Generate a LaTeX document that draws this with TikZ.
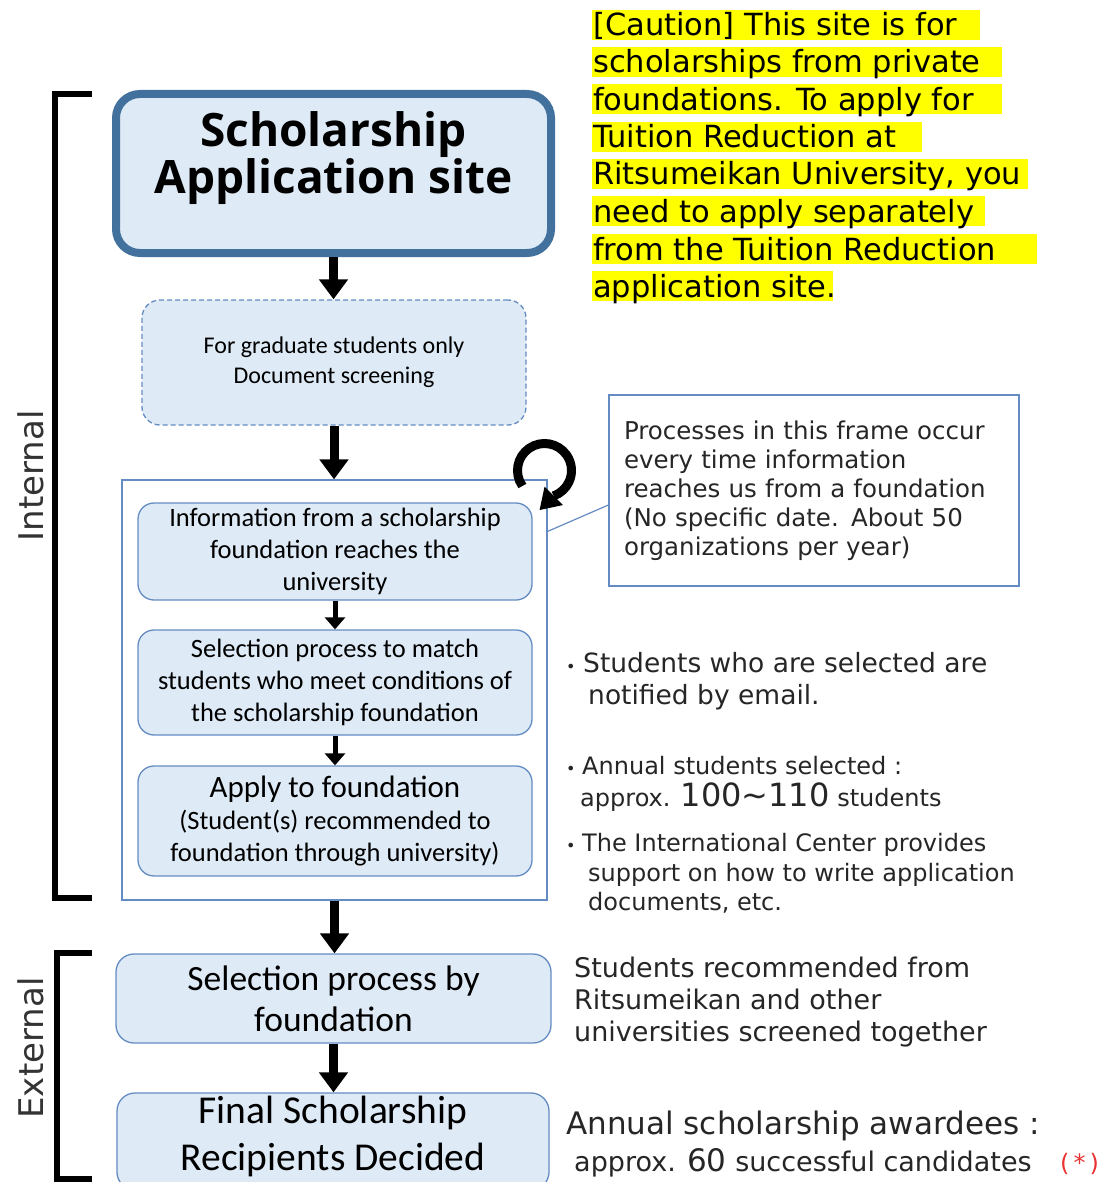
\documentclass[tikz,border=0pt]{standalone}
\usepackage{fontspec}
\setmainfont{Carlito}
\newfontfamily\gothfont{DejaVu Sans}
\newfontfamily\headfont{Open Sans}
\usetikzlibrary{arrows.meta,calc}
\newcommand\fsz[2]{\fontsize{#1}{#2}\selectfont}
\definecolor{boxfill}{RGB}{222,234,246}
\definecolor{deepblue}{RGB}{65,113,156}
\definecolor{lineblue}{RGB}{100,140,195}
\definecolor{hl}{RGB}{255,255,0}
\definecolor{redmark}{RGB}{235,50,50}
\newcommand\blt[1]{\makebox[#1][l]{\fsz{16}{16}•}}
\begin{document}
\begin{tikzpicture}[x=1pt,y=1pt,
  box/.style={draw=lineblue, line width=1.3pt, fill=boxfill, rounded corners=16pt, align=center, inner sep=0pt},
  bigarrow/.style={line width=9pt, -{Triangle[width=28pt,length=20pt]}},
  smallarrow/.style={line width=5pt, -{Triangle[width=20pt,length=12pt]}},
  bracketline/.style={line width=6pt},
  sidelabel/.style={font=\gothfont\fsz{34}{34}, text=black!80, rotate=90, anchor=base, inner sep=0pt},
  goth/.style={text=black!85, anchor=base west, inner sep=0pt},
  cline/.style={text=black, anchor=base west, inner sep=0pt, font=\gothfont\fsz{30.5}{30}},
]
\clip (0,0) rectangle (1103,-1182);
\fill[white] (0,0) rectangle (1103,-1182);

% caution highlight bands
\foreach \b/\xe in {36/980, 73/1002, 110.5/1002, 148/922, 185/1028, 222.5/985, 260/1037, 297/833}
  {\fill[hl] (592,{26-\b}) rectangle (\xe,{-4-\b});}
\node[cline] (c1) at (593,-36) {[Caution] This site is for};
\node[cline] (c2) at (593,-73) {scholarships from private};
\node[cline] (c3) at (593,-110.5) {foundations. To apply for};
\node[cline] (c4) at (593,-148) {Tuition Reduction at};
\node[cline] (c5) at (593,-185) {Ritsumeikan University, you};
\node[cline] (c6) at (593,-222.5) {need to apply separately};
\node[cline] (c7) at (593,-260) {from the Tuition Reduction};
\node[cline] (c8) at (593,-297) {application site.};

% brackets and labels
\draw[bracketline] (92,-94) -- (55,-94) -- (55,-898) -- (92,-898);
\draw[bracketline] (92,-953) -- (57,-953) -- (57,-1179) -- (92,-1179);
\node[sidelabel] (lint) at (43,-476) {Internal};
\node[sidelabel] (lext) at (43,-1048) {External};

% top box
\node[draw=deepblue, line width=8pt, fill=boxfill, rounded corners=24pt,
      minimum width=435pt, minimum height=159pt, inner sep=0pt] (site) at (333.5,-173.5) {};
\node[font=\headfont\bfseries\fsz{46}{45}, align=center, inner sep=0pt] (sitetxt) at (333.5,-158)
  {Scholarship\\Application site};

% dashed box
\node[box, dash pattern=on 5pt off 3pt, rounded corners=18pt, minimum width=384pt, minimum height=125pt,
      font=\fsz{24}{30}] (grad) at (334,-362.5) {For graduate students only\\Document screening};

% frame
\node[draw=lineblue, line width=1.2pt, fill=white, minimum width=425pt, minimum height=420pt, inner sep=0pt]
  (frame) at (334.5,-690) {};

\node[box, minimum width=394pt, minimum height=97pt, font=\fsz{26.5}{32}] (info) at (335,-551.5)
  {Information from a scholarship\\foundation reaches the\\university};
\node[box, minimum width=394pt, minimum height=105pt, font=\fsz{26.5}{32}] (match) at (335,-682.5)
  {Selection process to match\\students who meet conditions of\\the scholarship foundation};
\node[box, minimum width=394pt, minimum height=110pt, font=\fsz{26.5}{32}] (apply) at (335,-821)
  {{\fsz{31}{34}Apply to foundation}\\(Student(s) recommended to\\foundation through university)};

\node[box, rounded corners=18pt, minimum width=435pt, minimum height=89pt, font=\fsz{35.5}{41}] (fsel) at (333.5,-998.5)
  {Selection process by\\foundation};
\node[box, rounded corners=18pt, minimum width=432pt, minimum height=97pt] (final) at (333,-1141.5)
  {};
\node[align=center, inner sep=0pt, font=\fsz{39.5}{47}] (finaltxt) at (333,-1136.5)
  {Final Scholarship\\Recipients Decided};

% callout
\node[draw=lineblue, line width=1.2pt, fill=white, minimum width=410pt, minimum height=191pt,
      text width=380pt, inner xsep=15pt, inner ysep=0pt, align=left, text=black!85,
      font=\gothfont\fsz{24.5}{29}] (note) at (814,-490.5)
  {Processes in this frame occur\\every time information\\reaches us from a foundation\\(No specific date. About 50\\organizations per year)};
\draw[draw=lineblue, line width=1.2pt] ([yshift=-52pt]frame.north east) -- ([yshift=-14.5pt]note.west);

% loop arrow
\coordinate (loopc) at (544.5,-470.5);
\coordinate (loopend) at ($(loopc)+(-70:27pt)$);
\draw[line width=9pt] ([shift={(215:27pt)}]loopc) arc[start angle=215, end angle=-70, radius=27pt];
\fill ($(loopend)+(135:13pt)$) -- ($(loopend)+(315:13pt)$) -- ($(loopend)+(225:20pt)$) -- cycle;

% arrows
\draw[bigarrow] (site.south) -- (site.south |- grad.north);
\draw[bigarrow] (grad.south) -- (grad.south |- frame.north);
\draw[smallarrow] (info.south) -- (match.north);
\draw[smallarrow] (match.south) -- (apply.north);
\draw[bigarrow] (frame.south) -- (frame.south |- fsel.north);
\draw[bigarrow] (fsel.south) -- (fsel.south |- final.north);

% right notes
\node[goth, font=\gothfont\fsz{26.5}{32}] (s1) at (566,-672) {\blt{17pt}Students who are selected are};
\node[goth, font=\gothfont\fsz{26.5}{32}] (s2) at (588,-704) {notified by email.};
\node[goth, font=\gothfont\fsz{24}{30}] (a1) at (566,-774) {\blt{16pt}Annual students selected :};
\node[goth, font=\gothfont\fsz{24}{30}] (a2) at (580,-806) {approx. {\fsz{32}{32}100\textasciitilde 110} students};
\node[goth, font=\gothfont\fsz{24}{30}] (t1) at (566,-851) {\blt{16pt}The International Center provides};
\node[goth, font=\gothfont\fsz{24}{30}] (t2) at (588,-881) {support on how to write application};
\node[goth, font=\gothfont\fsz{24}{30}] (t3) at (588,-910) {documents, etc.};
\node[goth, font=\gothfont\fsz{27}{32}] (r1) at (574,-977) {Students recommended from};
\node[goth, font=\gothfont\fsz{27}{32}] (r2) at (574,-1009) {Ritsumeikan and other};
\node[goth, font=\gothfont\fsz{27}{32}] (r3) at (574,-1041) {universities screened together};
\node[goth, font=\gothfont\fsz{31}{36}] (w1) at (566,-1134) {Annual scholarship awardees :};
\node[goth, font=\gothfont\fsz{27}{32}] (w2) at (574,-1171) {approx. {\fsz{31}{31}60} successful candidates};
\node[goth, text=redmark, font=\gothfont\fsz{24}{30}] (star) at (1060,-1171) {(\kern4pt*\kern4pt)};
\end{tikzpicture}
\end{document}
